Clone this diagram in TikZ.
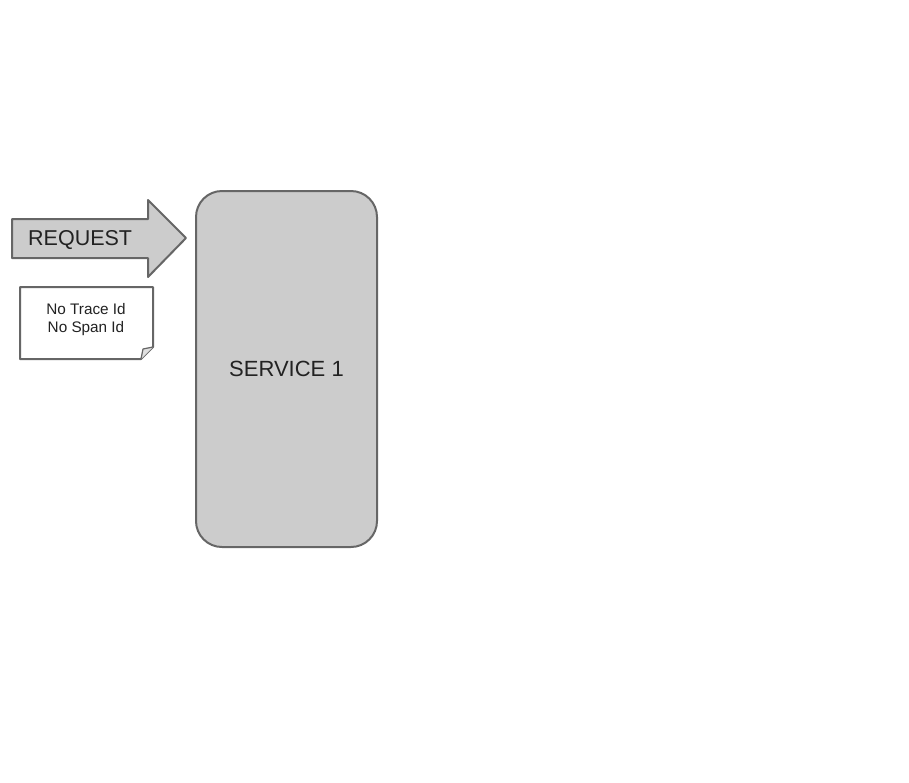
\documentclass[tikz,border=0pt]{standalone}
\usepackage{fontspec}
\setmainfont{Liberation Sans}
\usetikzlibrary{calc}
\definecolor{boxfill}{HTML}{CCCCCC}
\definecolor{boxline}{HTML}{666666}
\definecolor{ink}{HTML}{222222}
\begin{document}
\begin{tikzpicture}[x=1pt,y=-1pt,
  shapeline/.style={draw=boxline,line width=2pt,line join=round},
  label/.style={text=ink,inner sep=0pt,font=\fontsize{21.5}{25}\selectfont},
  small/.style={text=ink,inner sep=0pt,align=center,font=\fontsize{15.3}{18}\selectfont}]
\useasboundingbox (0,0) rectangle (909,782);
% service block
\node[shapeline,fill=boxfill,rounded corners=26pt,minimum width=181pt,minimum height=356pt,
      inner sep=0pt,anchor=north west,label,font=\fontsize{22}{25}\selectfont] (svc) at (195,190) {SERVICE 1};
% request arrow
\draw[shapeline,fill=boxfill] (12,219) -- (148,219) -- (148,200) -- (186,238) -- (148,277)
  -- (148,258) -- (12,258) -- cycle;
\node[label,anchor=west] (req) at (28,240.5) {REQUEST};
% note with folded corner
\draw[shapeline,fill=white] (20,287) -- (153,287) -- (153,347) -- (141,359) -- (20,359) -- cycle;
\draw[shapeline,fill=boxfill!60,line width=1.2pt] (153,347) -- (143,349) -- (141,359);
\node[small] (note) at (86,320) {No Trace Id\\No Span Id};
\end{tikzpicture}
\end{document}
